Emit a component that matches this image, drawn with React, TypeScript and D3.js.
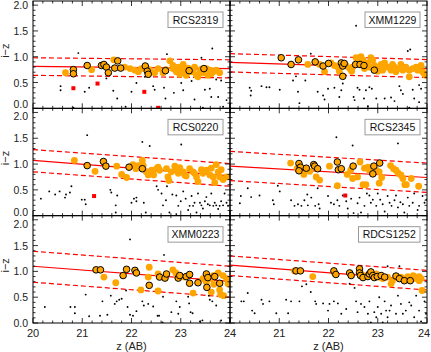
import React from 'react';
import * as d3 from 'd3';

type Pt = [number, number];

const clusterNames = ['RCS2319', 'XMM1229', 'RCS0220', 'RCS2345', 'XMM0223', 'RDCS1252'];

// red-sequence fit: value at z=20 and at z=24
const fitStart = [0.815, 0.89, 1.07, 0.96, 1.1, 1.12];
const fitEnd = [0.77, 0.77, 0.77, 0.74, 0.805, 0.825];
const upperStart = [0.98, 1.06, 1.28, 1.245, 1.39, 1.3];
const upperEnd = [0.94, 0.945, 1.01, 1.02, 1.1, 1.02];
const lowerStart = [0.64, 0.705, 0.85, 0.68, 0.79, 0.92];
const lowerEnd = [0.59, 0.595, 0.57, 0.45, 0.5, 0.64];

const xTicks = [20, 21, 22, 23, 24];
const yTicks = [0, 0.5, 1.0, 1.5, 2.0];

// ---- RCS2319
const rcs2319Members: Pt[] = [[20.82,0.75],[20.82,0.67],[21.10,0.83],[21.39,0.83],[21.44,0.85],[21.49,0.80],[21.53,0.69],[21.66,0.78],[21.72,0.92],[21.78,0.78],[22.28,0.82],[22.32,0.72],[22.34,0.66],[22.69,0.73],[23.17,0.73],[23.47,0.77]];
const rcs2319Orange: Pt[] = [[20.66,0.69],[21.19,0.75],[21.64,0.94],[21.86,0.80],[21.97,0.77],[22.07,0.74],[22.14,0.71],[22.20,0.77],[22.37,0.75],[22.47,0.69],[22.54,0.77],[22.64,0.69],[22.78,0.92],[22.84,0.77],[22.91,0.71],[22.98,0.66],[23.05,0.85],[23.08,0.74],[23.11,0.64],[23.25,0.74],[23.32,0.64],[23.39,0.71],[23.45,0.69],[23.52,0.77],[23.59,0.74],[23.66,0.71],[23.72,0.74],[23.79,0.69],[22.84,0.83],[22.95,0.80],[23.01,0.75],[23.22,0.71],[23.28,0.80],[23.35,0.61],[23.55,0.64],[23.0,0.70],[22.70,0.75],[23.15,0.78],[23.42,0.76],[23.62,0.67]];
const rcs2319Field: Pt[] = [[20.92,1.07],[20.56,0.43],[20.56,0.35],[20.82,0.01],[21.05,0.32],[21.14,0.40],[21.49,0.58],[21.63,0.34],[21.71,0.19],[21.88,0.03],[22.00,0.32],[22.10,0.49],[22.27,0.61],[22.44,0.43],[22.47,0.36],[22.66,0.40],[22.69,0.19],[22.72,1.05],[22.86,0.30],[23.01,0.49],[23.05,0.35],[23.22,0.53],[23.28,0.17],[23.42,0.98],[23.49,0.36],[23.59,0.38],[23.64,1.16],[23.72,0.56],[23.82,0.54],[23.62,0.22],[23.76,0.22],[23.93,0.16],[23.45,0.01],[23.86,0.03]];
const rcs2319Red: Pt[] = [[20.82,0.39],[21.31,0.48],[22.26,0.32],[22.54,0.01]];

// ---- XMM1229
const xmm1229Members: Pt[] = [[21.04,0.98],[21.24,0.85],[21.39,0.94],[21.73,0.90],[21.89,0.82],[22.00,0.87],[22.26,0.88],[22.29,0.82],[22.32,0.87],[22.29,0.62],[22.55,0.85],[22.64,0.85],[22.72,0.83],[22.93,0.74]];
const xmm1229Orange: Pt[] = [[21.58,0.85],[21.82,0.85],[21.92,0.71],[22.05,0.88],[22.12,0.83],[22.19,0.80],[22.22,0.72],[22.36,0.82],[22.43,0.77],[22.47,0.72],[22.49,0.80],[22.56,0.98],[22.62,0.93],[22.66,1.00],[22.70,0.94],[22.73,0.77],[22.80,0.88],[22.83,0.80],[22.86,0.98],[22.90,0.94],[22.93,0.83],[23.00,0.80],[23.00,0.72],[23.07,0.85],[23.10,0.74],[23.14,0.88],[23.20,0.80],[23.27,0.74],[23.30,0.85],[23.34,0.80],[23.37,0.71],[23.44,0.77],[23.47,0.85],[23.51,0.74],[23.57,0.80],[23.64,0.74],[23.64,0.61],[23.71,0.77],[23.78,0.80],[23.81,0.74],[23.88,0.83],[23.91,0.71],[23.95,0.66],[23.98,0.64]];
const xmm1229Field: Pt[] = [[19.99,0.56],[20.40,0.40],[20.43,0.34],[20.42,0.25],[20.64,0.43],[20.74,0.41],[20.80,0.41],[21.01,0.36],[21.28,0.54],[21.34,0.62],[21.38,0.32],[21.41,0.10],[21.53,0.54],[21.64,1.06],[21.78,0.32],[21.89,0.25],[21.92,0.17],[21.99,0.38],[22.12,0.40],[22.26,0.35],[22.22,0.22],[22.29,0.48],[22.51,0.22],[22.53,0.16],[22.56,1.60],[22.59,0.40],[22.63,0.36],[22.72,0.19],[22.76,0.35],[22.83,0.41],[22.88,0.38],[22.97,0.19],[23.14,0.19],[23.24,1.60],[23.27,0.21],[23.34,0.14],[23.44,0.43],[23.47,0.35],[23.51,0.28],[23.61,1.11],[23.66,1.14],[23.71,0.36],[23.74,0.19],[23.84,0.45],[23.88,0.38],[23.84,0.12],[23.64,0.01],[22.80,0.04]];
const xmm1229Red: Pt[] = [];

// ---- RCS0220
const rcs0220Members: Pt[] = [[21.10,0.97],[21.43,1.05],[21.48,0.96],[21.95,0.94],[22.22,0.91]];
const rcs0220Orange: Pt[] = [[20.84,1.07],[21.26,0.86],[21.70,0.96],[21.80,0.80],[21.90,0.74],[22.03,0.99],[22.09,0.91],[22.14,0.97],[22.22,1.07],[22.24,0.97],[22.30,0.85],[22.34,0.79],[22.41,0.88],[22.45,0.79],[22.51,0.91],[22.54,0.94],[22.57,0.88],[22.71,0.91],[22.74,0.75],[22.76,0.68],[22.81,0.85],[22.88,0.96],[22.91,0.88],[22.95,0.82],[22.98,0.93],[23.05,0.85],[23.08,0.79],[23.11,0.77],[23.18,0.91],[23.25,0.85],[23.28,0.82],[23.32,0.75],[23.35,0.66],[23.42,0.89],[23.45,0.82],[23.52,0.88],[23.59,0.79],[23.62,0.92],[23.66,0.75],[23.69,0.64],[23.72,0.99],[23.76,0.85],[23.79,0.75],[23.82,0.89],[23.86,0.70],[23.93,0.75]];
const rcs0220Field: Pt[] = [[21.10,1.56],[22.22,1.43],[22.37,1.35],[23.01,1.38],[20.16,0.33],[20.33,0.47],[20.45,0.41],[20.54,0.47],[20.65,0.35],[20.67,0.41],[20.75,0.45],[20.78,0.57],[20.99,0.31],[21.05,0.31],[21.07,0.22],[21.57,0.50],[21.59,0.45],[21.71,0.39],[21.68,0.20],[21.68,0.06],[22.0,0.25],[22.05,0.33],[22.10,0.35],[22.10,0.28],[22.25,0.25],[22.29,0.06],[22.51,0.57],[22.54,0.50],[22.61,0.43],[22.64,0.20],[22.70,0.30],[22.72,0.57],[22.83,0.41],[22.91,0.39],[22.95,0.19],[23.0,0.28],[23.05,0.47],[23.10,0.33],[23.15,0.11],[23.18,0.19],[23.22,0.38],[23.25,0.19],[23.28,0.25],[23.32,0.06],[23.35,0.43],[23.39,0.25],[23.42,0.20],[23.45,0.14],[23.49,0.28],[23.52,0.36],[23.55,0.22],[23.59,0.20],[23.62,0.43],[23.66,0.19],[23.69,0.25],[23.72,0.20],[23.76,0.13],[23.79,0.19],[23.82,0.28],[23.86,0.20],[23.89,0.43],[23.93,0.25],[23.96,0.19],[22.77,0.06],[22.91,0.03]];
const rcs0220Red: Pt[] = [[21.24,0.38]];

// ---- RCS2345
const rcs2345Members: Pt[] = [[21.40,1.01],[21.43,0.94],[21.40,0.87],[21.55,0.92],[21.70,0.99],[21.72,0.96],[21.78,0.91],[22.18,1.04],[22.20,0.89],[22.26,0.91],[22.50,0.96],[22.90,0.81],[22.92,0.96],[23.04,1.02]];
const rcs2345Orange: Pt[] = [[21.23,1.02],[21.36,0.91],[21.50,0.80],[21.62,0.86],[21.75,0.75],[21.82,0.69],[22.02,0.96],[22.18,0.58],[22.38,0.80],[22.45,0.88],[22.49,0.72],[22.59,0.75],[22.64,1.04],[22.70,0.60],[22.73,0.92],[22.76,0.60],[22.80,0.94],[22.83,0.88],[22.97,0.88],[23.03,0.85],[23.03,0.63],[23.08,0.74],[23.26,0.97],[23.32,0.91],[23.37,0.88],[23.41,0.83],[23.47,0.79],[23.51,0.72],[23.55,0.60],[23.58,0.60],[23.68,0.72],[23.83,0.57]];
const rcs2345Field: Pt[] = [[22.16,1.52],[22.49,1.36],[23.41,1.40],[20.22,0.38],[20.20,0.24],[20.43,0.36],[20.60,0.39],[20.36,0.53],[20.87,0.30],[20.89,0.22],[20.97,0.58],[21.01,0.47],[21.24,0.30],[21.31,0.19],[21.38,0.22],[21.45,0.19],[21.51,0.30],[21.57,0.41],[21.58,0.20],[21.65,0.35],[21.73,0.19],[21.78,0.53],[21.80,0.22],[21.82,0.14],[21.99,0.38],[22.05,0.25],[22.11,0.22],[22.18,0.30],[22.22,0.19],[22.29,0.39],[22.36,0.28],[22.39,0.14],[22.46,0.33],[22.51,0.05],[22.59,0.24],[22.63,0.35],[22.66,0.06],[22.73,0.19],[22.78,0.43],[22.83,0.39],[22.86,0.25],[22.90,0.31],[22.97,0.19],[23.0,0.43],[23.05,0.31],[23.10,0.22],[23.14,0.08],[23.20,0.38],[23.24,0.25],[23.28,0.19],[23.34,0.30],[23.37,0.39],[23.41,0.16],[23.46,0.26],[23.51,0.22],[23.54,0.06],[23.61,0.35],[23.64,0.19],[23.71,0.25],[23.74,0.43],[23.81,0.11],[23.84,0.19],[23.91,0.38],[23.95,0.25],[23.99,0.31]];
const rcs2345Red: Pt[] = [[22.34,0.39]];

// ---- XMM0223
const xmm0223Members: Pt[] = [[21.28,1.03],[21.37,1.03],[21.83,0.92],[21.90,1.04],[22.07,1.02],[22.10,0.97],[22.36,0.73],[22.57,0.89],[22.68,0.87],[22.71,0.95],[22.95,0.87],[22.98,0.92],[23.11,0.90],[23.18,0.94],[23.18,0.77],[23.35,0.78],[23.52,0.95],[23.55,0.88],[23.53,0.69],[23.69,0.90],[23.79,0.77]];
const xmm0223Orange: Pt[] = [[21.44,0.89],[21.68,0.78],[22.19,0.64],[22.36,1.08],[22.34,0.89],[22.54,0.95],[22.54,0.62],[22.84,1.03],[22.90,0.97],[22.93,0.89],[23.08,0.89],[23.25,0.58],[23.45,0.86],[23.52,0.79],[23.62,0.86],[23.62,0.60],[23.66,0.92],[23.67,0.75],[23.76,0.97],[23.79,0.64],[23.81,0.55],[23.86,0.92],[23.87,0.53],[23.93,0.86],[23.96,0.76]];
const xmm0223Field: Pt[] = [[21.97,1.62],[22.66,1.32],[20.24,0.31],[20.76,0.31],[20.85,0.31],[20.85,0.19],[21.07,0.55],[21.14,0.13],[21.36,0.14],[21.41,0.42],[21.51,0.16],[21.58,0.53],[21.66,0.37],[21.70,0.42],[21.75,0.45],[21.80,0.47],[21.89,0.63],[21.92,0.31],[21.97,0.16],[22.03,0.14],[22.10,0.23],[22.22,0.42],[22.25,0.34],[22.34,0.37],[22.44,0.32],[22.53,0.14],[22.56,0.14],[22.63,0.01],[22.64,0.51],[22.81,0.21],[22.91,0.42],[22.95,0.18],[22.98,0.31],[23.15,0.51],[23.17,0.38],[23.20,0.21],[23.24,0.19],[23.39,0.03],[23.44,0.05],[23.57,0.53],[23.59,0.45],[23.64,0.42],[23.72,0.34],[23.82,0.05]];
const xmm0223Red: Pt[] = [];

// ---- RDCS1252
const rdcs1252Members: Pt[] = [[21.34,1.01],[21.43,1.01],[22.11,1.01],[22.15,0.94],[22.43,0.97],[22.46,0.92],[22.63,1.05],[22.63,0.97],[22.65,0.92],[22.70,0.88],[22.80,0.90],[22.83,0.95],[22.86,0.99],[22.90,0.92],[22.93,0.88],[22.99,0.90],[23.07,0.92],[23.14,0.89],[23.37,0.91],[23.44,0.86],[23.54,0.82],[23.66,0.82]];
const rdcs1252Orange: Pt[] = [[21.31,1.01],[21.68,0.90],[22.12,0.97],[22.66,0.95],[22.73,0.92],[22.97,0.95],[23.03,0.89],[23.10,0.86],[23.20,0.89],[23.27,0.76],[23.30,0.82],[23.47,0.89],[23.51,0.86],[23.61,0.90],[23.64,0.86],[23.72,0.92],[23.74,0.86],[23.78,0.89],[23.84,0.90],[23.88,0.86],[23.90,0.63],[23.84,0.82]];
const rdcs1252Field: Pt[] = [[23.20,1.10],[23.44,1.10],[20.23,0.42],[20.28,0.42],[20.36,0.58],[20.45,0.24],[20.50,0.19],[20.64,0.45],[20.67,0.37],[20.80,0.42],[20.94,0.19],[21.14,0.45],[21.18,0.19],[21.24,0.42],[21.41,0.42],[21.46,0.71],[21.55,0.75],[21.64,0.60],[21.73,0.42],[21.75,0.37],[21.89,0.38],[21.99,0.24],[22.02,0.37],[22.11,0.42],[22.19,0.38],[22.26,0.18],[22.36,0.27],[22.43,0.76],[22.53,0.68],[22.56,0.42],[22.59,0.21],[22.66,0.37],[22.73,0.31],[22.80,0.18],[22.83,0.42],[22.86,0.01],[22.93,0.21],[22.97,0.11],[23.0,0.31],[23.03,0.50],[23.07,0.18],[23.10,0.01],[23.14,0.42],[23.17,0.24],[23.20,0.11],[23.24,0.24],[23.27,0.34],[23.37,0.18],[23.41,0.53],[23.47,0.37],[23.51,0.18],[23.57,0.24],[23.64,0.40],[23.68,0.34],[23.74,0.11],[23.78,0.53],[23.84,0.24],[23.88,0.03],[23.95,0.42],[23.98,0.18]];
const rdcs1252Red: Pt[] = [];

const members = [rcs2319Members, xmm1229Members, rcs0220Members, rcs2345Members, xmm0223Members, rdcs1252Members];
const oranges = [rcs2319Orange, xmm1229Orange, rcs0220Orange, rcs2345Orange, xmm0223Orange, rdcs1252Orange];
const fields = [rcs2319Field, xmm1229Field, rcs0220Field, rcs2345Field, xmm0223Field, rdcs1252Field];
const reds = [rcs2319Red, xmm1229Red, rcs0220Red, rcs2345Red, xmm0223Red, rdcs1252Red];

const W = 431;
const H = 352;
const colX = [[33, 230], [230, 427]];
const top0 = 1;
const rowH = 322 / 3;
const font = 'Liberation Sans, Arial, Helvetica, sans-serif';

function Panel({ i }: { i: number }) {
  const col = i % 2;
  const row = Math.floor(i / 2);
  const top = top0 + row * rowH;
  const bottom = top + rowH;
  const x = d3.scaleLinear().domain([20, 24]).range(colX[col]);
  const y = d3.scaleLinear().domain([0, 2.08]).range([bottom, top]);
  const [x0, x1] = colX[col];
  const clipId = `clip${i}`;
  const name = clusterNames[i];
  const bw = name.length * 6.5 + 9.5;

  const xMinor = d3.range(20, 24.001, 0.2);
  const yMinor = d3.range(0, 2.08, 0.1);

  const line = (a: number, b: number, dash?: string) => (
    <line x1={x(20)} y1={y(a)} x2={x(24)} y2={y(b)} stroke="#ff0000" strokeWidth={1.2} strokeDasharray={dash} />
  );

  return (
    <g>
      <defs>
        <clipPath id={clipId}>
          <rect x={x0} y={top} width={x1 - x0} height={rowH} />
        </clipPath>
      </defs>
      <g clipPath={`url(#${clipId})`}>
        {line(fitStart[i], fitEnd[i])}
        {line(upperStart[i], upperEnd[i], '5,3')}
        {line(lowerStart[i], lowerEnd[i], '5,3')}
        {fields[i].map((d, k) => (
          <circle key={'f' + k} cx={x(d[0])} cy={y(d[1])} r={0.95} fill="#000" />
        ))}
        {reds[i].map((d, k) => (
          <rect key={'r' + k} x={x(d[0]) - 2} y={y(d[1]) - 2} width={4} height={4} fill="#ff0000" />
        ))}
        {oranges[i].map((d, k) => (
          <circle key={'o' + k} cx={x(d[0])} cy={y(d[1])} r={3.4} fill="#ffa500" />
        ))}
        {members[i].map((d, k) => (
          <circle key={'m' + k} cx={x(d[0])} cy={y(d[1])} r={3.3} fill="#ffa500" stroke="#000" strokeWidth={1} />
        ))}
      </g>
      {xMinor.map((v, k) => {
        const major = Math.abs(v - Math.round(v)) < 1e-6;
        const len = major ? 5 : 2.5;
        return (
          <g key={'xt' + k} stroke="#000" strokeWidth={0.8}>
            <line x1={x(v)} x2={x(v)} y1={bottom} y2={bottom - len} />
            <line x1={x(v)} x2={x(v)} y1={top} y2={top + len} />
          </g>
        );
      })}
      {yMinor.map((v, k) => {
        const major = Math.abs(v * 2 - Math.round(v * 2)) < 1e-6;
        const len = major ? 5 : 2.5;
        return (
          <g key={'yt' + k} stroke="#000" strokeWidth={0.8}>
            <line x1={x0} x2={x0 + len} y1={y(v)} y2={y(v)} />
            <line x1={x1} x2={x1 - len} y1={y(v)} y2={y(v)} />
          </g>
        );
      })}
      <rect x={x0} y={top} width={x1 - x0} height={rowH} fill="none" stroke="#000" strokeWidth={1} />
      <rect x={x1 - 7 - bw} y={top + 11} width={bw} height={15.5} fill="#fff" stroke="#9a9a9a" strokeWidth={1} />
      <text x={x1 - 7 - bw / 2} y={top + 22.5} textAnchor="middle" fontFamily={font} fontSize={10.5} fill="#111">
        {name}
      </text>
      {col === 0 &&
        yTicks.map((v, k) => {
          let dy = 0;
          if (v === 0 && row < 2) dy = -4;
          if (v === 2 && row > 0) dy = 4;
          return (
            <text key={'yl' + k} x={28} y={y(v) + dy + 4} textAnchor="end" fontFamily={font} fontSize={10.5} fill="#222">
              {v.toFixed(1)}
            </text>
          );
        })}
      {col === 0 && (
        <text
          transform={`translate(9,${top + rowH / 2 - 4}) rotate(-90)`}
          textAnchor="middle"
          fontFamily={font}
          fontSize={11}
          fill="#222"
        >
          i−z
        </text>
      )}
      {row === 2 &&
        xTicks
          .filter((v) => !(col === 1 && v === 20))
          .map((v) => (
            <text
              key={'xl' + v}
              x={col === 1 && v === 24 ? x(v) - 3 : x(v)}
              y={337}
              textAnchor="middle"
              fontFamily={font}
              fontSize={11}
              fill="#222"
            >
              {v}
            </text>
          ))}
      {row === 2 && (
        <text x={(x0 + x1) / 2} y={350} textAnchor="middle" fontFamily={font} fontSize={11} fill="#222">
          z (AB)
        </text>
      )}
    </g>
  );
}

export default function App() {
  return (
    <svg
      width={W}
      height={H}
      viewBox={`0 0 ${W} ${H}`}
      style={{ position: 'absolute', left: 0, top: 0, background: '#fff' }}
    >
      <rect width={W} height={H} fill="#fff" />
      {clusterNames.map((_, i) => (
        <Panel key={i} i={i} />
      ))}
    </svg>
  );
}
